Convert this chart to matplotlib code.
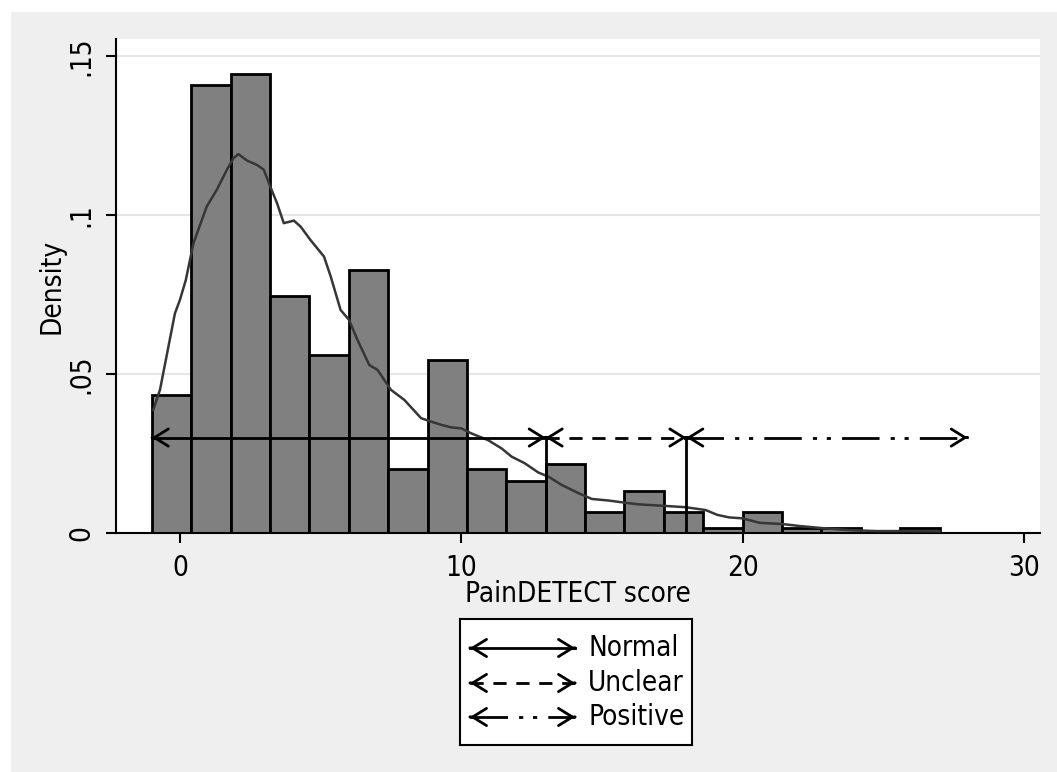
import matplotlib
matplotlib.use("Agg")
import matplotlib.pyplot as plt
from matplotlib.patches import Rectangle

plt.rcParams['font.family'] = ['DejaVu Sans']
plt.rcParams['font.stretch'] = 'condensed'
plt.rcParams['lines.scale_dashes'] = False

# histogram: 20 bins of width 1.4 starting at -1
bin_start = -1.0
bin_width = 1.4
density = [0.0434, 0.1407, 0.1442, 0.0745, 0.0560, 0.0827, 0.0200, 0.0544,
           0.0200, 0.0164, 0.0216, 0.0065, 0.0133, 0.0065, 0.0017, 0.0065,
           0.0017, 0.0017, 0.0, 0.0017]

# kernel density estimate
kde_x = [-0.95, -0.71, -0.18, 0.0, 0.21, 0.48, 0.95, 1.31, 1.67, 1.90, 2.08,
         2.38, 2.74, 2.98, 3.21, 3.45, 3.69, 4.05, 4.29, 4.64, 4.88, 5.12,
         5.36, 5.71, 6.01, 6.31, 6.73, 7.02, 7.5, 7.98, 8.57, 8.93, 9.29,
         9.64, 10.0, 10.36, 10.95, 11.43, 11.79, 12.26, 12.74, 13.1, 13.57,
         14.17, 14.64, 15.24, 15.83, 16.31, 17.26, 17.98, 18.69, 19.1, 19.52,
         20.0, 20.6, 21.43, 22.02, 22.86, 23.81, 24.76, 25.6, 27.0]
kde_y = [0.0387, 0.045, 0.069, 0.0733, 0.0796, 0.0911, 0.1026, 0.1079,
         0.1142, 0.1178, 0.1191, 0.1171, 0.1157, 0.1142, 0.1089, 0.1037,
         0.0974, 0.0982, 0.0963, 0.0921, 0.0895, 0.0869, 0.0806, 0.0701,
         0.067, 0.0607, 0.0528, 0.0513, 0.045, 0.0418, 0.0361, 0.035, 0.034,
         0.0332, 0.0329, 0.0313, 0.0292, 0.0266, 0.024, 0.0219, 0.019,
         0.0177, 0.0151, 0.0125, 0.0107, 0.0102, 0.0095, 0.009, 0.0085,
         0.0081, 0.0072, 0.0057, 0.0049, 0.0046, 0.0032, 0.0028, 0.0022,
         0.0015, 0.0009, 0.0006, 0.0006, 0.0005]

# score ranges
range_names = ["Normal", "Unclear", "Positive"]
range_lo = [-1, 13, 18]
range_hi = [13, 18, 28]
arrow_y = 0.030

x_ticks = [0, 10, 20, 30]
y_ticks = [0, 0.05, 0.1, 0.15]
y_tick_labels = ["0", ".05", ".1", ".15"]

styles = ['-', (0, (9.5, 7)), (0, (27, 8, 3, 7, 3, 8))]
fs = 20

fig = plt.figure(figsize=(10.57, 7.72), dpi=100)
fig.patches.append(Rectangle((0.0104, 0), 0.9896, 0.9845, transform=fig.transFigure,
                             facecolor='#efefef', edgecolor='none', zorder=-5))

ax = fig.add_axes([0.1097, 0.3096, 0.8742, 0.6399])
ax.set_xlim(-2.275, 30.57)
ax.set_ylim(0, 0.1553)

for y in y_ticks[1:]:
    ax.axhline(y, color='#e6e6e6', lw=1.5, zorder=0)

lefts = [bin_start + i * bin_width for i in range(len(density))]
ax.bar(lefts, density, width=bin_width, align='edge', color='#808080',
       edgecolor='black', linewidth=2.0, zorder=2)

ax.plot(kde_x, kde_y, color='#363636', lw=1.8, zorder=3)


def head(a, x, y, d):
    # open arrow head pointing in direction d (+1 right, -1 left)
    a.annotate('', xy=(x, y), xytext=(x - d * 0.02, y),
               arrowprops=dict(arrowstyle='->,head_length=1.0,head_width=0.62',
                               mutation_scale=10, lw=2.0, color='black',
                               shrinkA=0, shrinkB=0), zorder=5)


for lo, hi, ls in zip(range_lo, range_hi, styles):
    ax.plot([lo, hi], [arrow_y, arrow_y], color='black', lw=2.0, ls=ls, zorder=4)
    head(ax, lo, arrow_y, -1)
    head(ax, hi, arrow_y, 1)

# cut-off markers
for x in range_lo[1:]:
    ax.plot([x, x], [0, arrow_y], color='black', lw=2.0, zorder=4)

for s in ['top', 'right']:
    ax.spines[s].set_visible(False)
for s in ['left', 'bottom']:
    ax.spines[s].set_linewidth(1.5)
ax.set_xticks(x_ticks)
ax.set_yticks(y_ticks)
ax.set_yticklabels(y_tick_labels, rotation=90, va='center')
ax.tick_params(length=7, width=1.5, labelsize=fs, pad=8)
ax.set_xlabel("PainDETECT score", fontsize=fs, labelpad=-1)
ax.set_ylabel("Density", fontsize=fs, labelpad=1)

# legend box
lg = fig.add_axes([0.4352, 0.035, 0.2195, 0.1632])
lg.set_xlim(0, 232)
lg.set_ylim(126, 0)
lg.set_xticks([])
lg.set_yticks([])
for s in lg.spines.values():
    s.set_linewidth(1.5)
rows = [29, 64, 98]
for name, ls, yr in zip(range_names, styles, rows):
    lg.plot([10, 115], [yr, yr], color='black', lw=2.0, ls=ls)
    head(lg, 10, yr, -1)
    head(lg, 115, yr, 1)
    lg.text(128, yr, name, fontsize=fs, va='center', ha='left')

fig.savefig("out.png", dpi=100)
